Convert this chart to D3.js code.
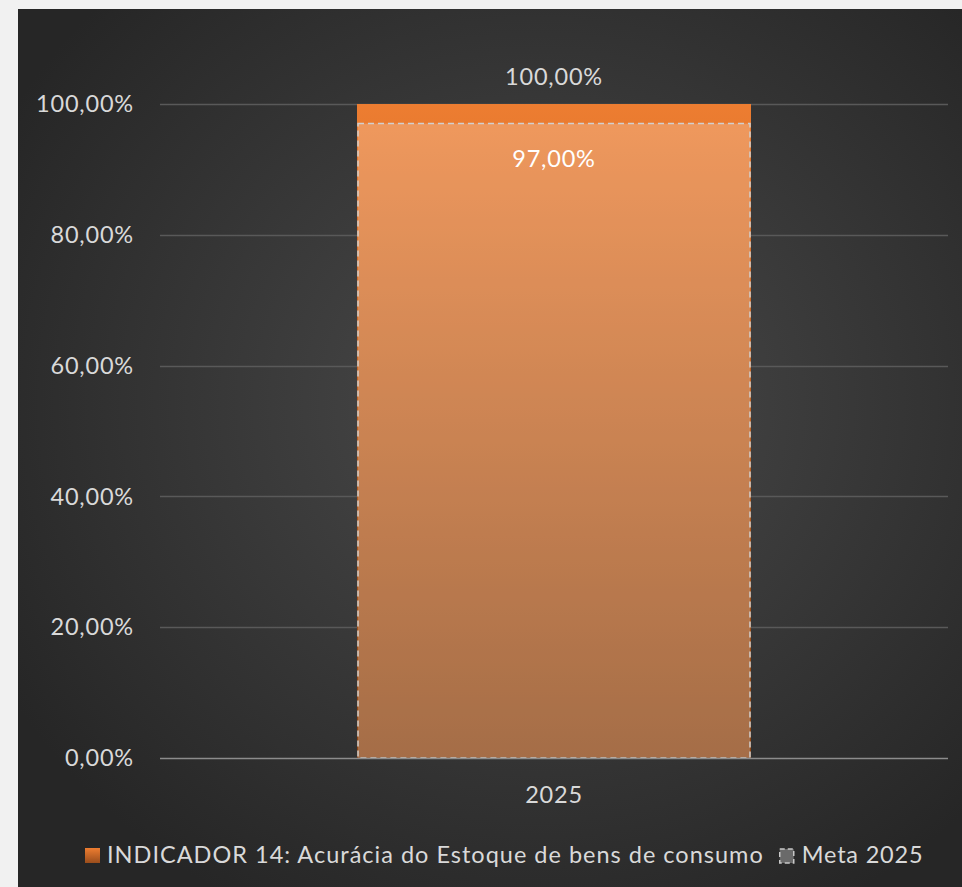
<!DOCTYPE html>
<html>
<head>
<meta charset="utf-8">
<script src="https://cdn.jsdelivr.net/npm/d3@7"></script>
<style>
  html, body { margin: 0; padding: 0; background: #f1f1f1; }
  svg { display: block; }
  text { font-family: Lato, "Open Sans", sans-serif; letter-spacing: 0.8px; }
</style>
</head>
<body>
<div id="chart"></div>
<script>
const categories = ["2025"];
const indicador = [1.0];
const meta = [0.97];
const yTicks = [0, 0.2, 0.4, 0.6, 0.8, 1.0];
const seriesNames = ["INDICADOR 14: Acurácia do Estoque de bens de consumo", "Meta 2025"];

const width = 962, height = 887;
const panel = { x: 18, y: 9 };
const margin = { top: 104, right: 14, bottom: 129, left: 160 };
const fontSize = 23.5;

const fmt = (v) => d3.format(".2f")(v * 100).replace(".", ",") + "%";

const svg = d3.select("#chart").append("svg")
  .attr("width", width)
  .attr("height", height);

const defs = svg.append("defs");
const bg = defs.append("radialGradient").attr("id", "bg")
  .attr("cx", "55%").attr("cy", "45%").attr("r", "65%");
bg.append("stop").attr("offset", "0%").attr("stop-color", "#4b4b4b");
bg.append("stop").attr("offset", "100%").attr("stop-color", "#262626");

const barGrad = defs.append("linearGradient").attr("id", "barGrad")
  .attr("x1", 0).attr("y1", 0).attr("x2", 0).attr("y2", 1);
barGrad.append("stop").attr("offset", "0%").attr("stop-color", "#ed7d31");
barGrad.append("stop").attr("offset", "100%").attr("stop-color", "#8c4514");

const legGrad = defs.append("linearGradient").attr("id", "legGrad")
  .attr("x1", 0).attr("y1", 0).attr("x2", 0).attr("y2", 1);
legGrad.append("stop").attr("offset", "0%").attr("stop-color", "#ed7d31");
legGrad.append("stop").attr("offset", "100%").attr("stop-color", "#9a4d1c");

svg.append("rect")
  .attr("x", panel.x).attr("y", panel.y)
  .attr("width", width - panel.x).attr("height", height - panel.y)
  .attr("fill", "url(#bg)");

const x = d3.scaleBand()
  .domain(categories)
  .range([margin.left, width - margin.right])
  .paddingInner(0.5).paddingOuter(0.25);

const y = d3.scaleLinear()
  .domain([0, 1])
  .range([height - margin.bottom, margin.top]);

// gridlines
svg.append("g")
  .selectAll("line")
  .data(yTicks.filter((d) => d > 0))
  .join("line")
  .attr("x1", margin.left).attr("x2", width - margin.right)
  .attr("y1", (d) => Math.round(y(d)) + 0.5).attr("y2", (d) => Math.round(y(d)) + 0.5)
  .attr("stroke", "#595959").attr("stroke-width", 1.3);

// y labels
svg.append("g")
  .selectAll("text")
  .data(yTicks)
  .join("text")
  .attr("x", 134)
  .attr("y", (d) => y(d))
  .attr("dy", "0.35em")
  .attr("text-anchor", "end")
  .attr("fill", "#d9d9d9")
  .attr("font-size", fontSize)
  .text(fmt);

// indicador bars
svg.append("g")
  .selectAll("rect")
  .data(categories)
  .join("rect")
  .attr("x", (d) => x(d))
  .attr("width", x.bandwidth())
  .attr("y", (d, i) => y(indicador[i]))
  .attr("height", (d, i) => y(0) - y(indicador[i]))
  .attr("fill", "url(#barGrad)");

// meta bars (overlapping)
svg.append("g")
  .selectAll("rect")
  .data(categories)
  .join("rect")
  .attr("x", (d) => x(d) + 1)
  .attr("width", x.bandwidth() - 2)
  .attr("y", (d, i) => y(meta[i]))
  .attr("height", (d, i) => y(0) - y(meta[i]))
  .attr("fill", "#ffffff").attr("fill-opacity", 0.22)
  .attr("stroke", "#d0d0d0").attr("stroke-width", 1.5)
  .attr("stroke-dasharray", "6,4");

// zero axis line
svg.append("line")
  .attr("x1", margin.left).attr("x2", width - margin.right)
  .attr("y1", y(0) + 0.5).attr("y2", y(0) + 0.5)
  .attr("stroke", "#8c8c8c").attr("stroke-width", 1.5);

// data labels
svg.append("g")
  .selectAll("text")
  .data(categories)
  .join("text")
  .attr("x", (d) => x(d) + x.bandwidth() / 2)
  .attr("y", (d, i) => y(indicador[i]) - 27)
  .attr("dy", "0.35em")
  .attr("text-anchor", "middle")
  .attr("fill", "#d9d9d9")
  .attr("font-size", fontSize)
  .text((d, i) => fmt(indicador[i]));

svg.append("g")
  .selectAll("text")
  .data(categories)
  .join("text")
  .attr("x", (d) => x(d) + x.bandwidth() / 2)
  .attr("y", (d, i) => y(meta[i]) + 35)
  .attr("dy", "0.35em")
  .attr("text-anchor", "middle")
  .attr("fill", "#ffffff")
  .attr("font-size", fontSize)
  .text((d, i) => fmt(meta[i]));

// x labels
svg.append("g")
  .selectAll("text")
  .data(categories)
  .join("text")
  .attr("x", (d) => x(d) + x.bandwidth() / 2)
  .attr("y", y(0) + 37)
  .attr("dy", "0.35em")
  .attr("text-anchor", "middle")
  .attr("fill", "#d9d9d9")
  .attr("font-size", fontSize)
  .text((d) => d);

// legend
const legend = svg.append("g").attr("transform", "translate(0,855)");
legend.append("rect")
  .attr("x", 85).attr("y", -7).attr("width", 15).attr("height", 15)
  .attr("fill", "url(#legGrad)");
const leg1 = legend.append("text")
  .attr("x", 107).attr("y", 0).attr("dy", "0.35em")
  .attr("fill", "#d9d9d9").attr("font-size", fontSize)
  .style("letter-spacing", "1px")
  .text(seriesNames[0]);
const leg1End = 107 + leg1.node().getComputedTextLength();
legend.append("rect")
  .attr("x", leg1End + 16).attr("y", -6).attr("width", 14).attr("height", 14)
  .attr("fill", "#6a6a6a")
  .attr("stroke", "#c8c8c8").attr("stroke-width", 1.5)
  .attr("stroke-dasharray", "5,3");
legend.append("text")
  .attr("x", leg1End + 38).attr("y", 0).attr("dy", "0.35em")
  .attr("fill", "#d9d9d9").attr("font-size", fontSize)
  .text(seriesNames[1]);
</script>
</body>
</html>
